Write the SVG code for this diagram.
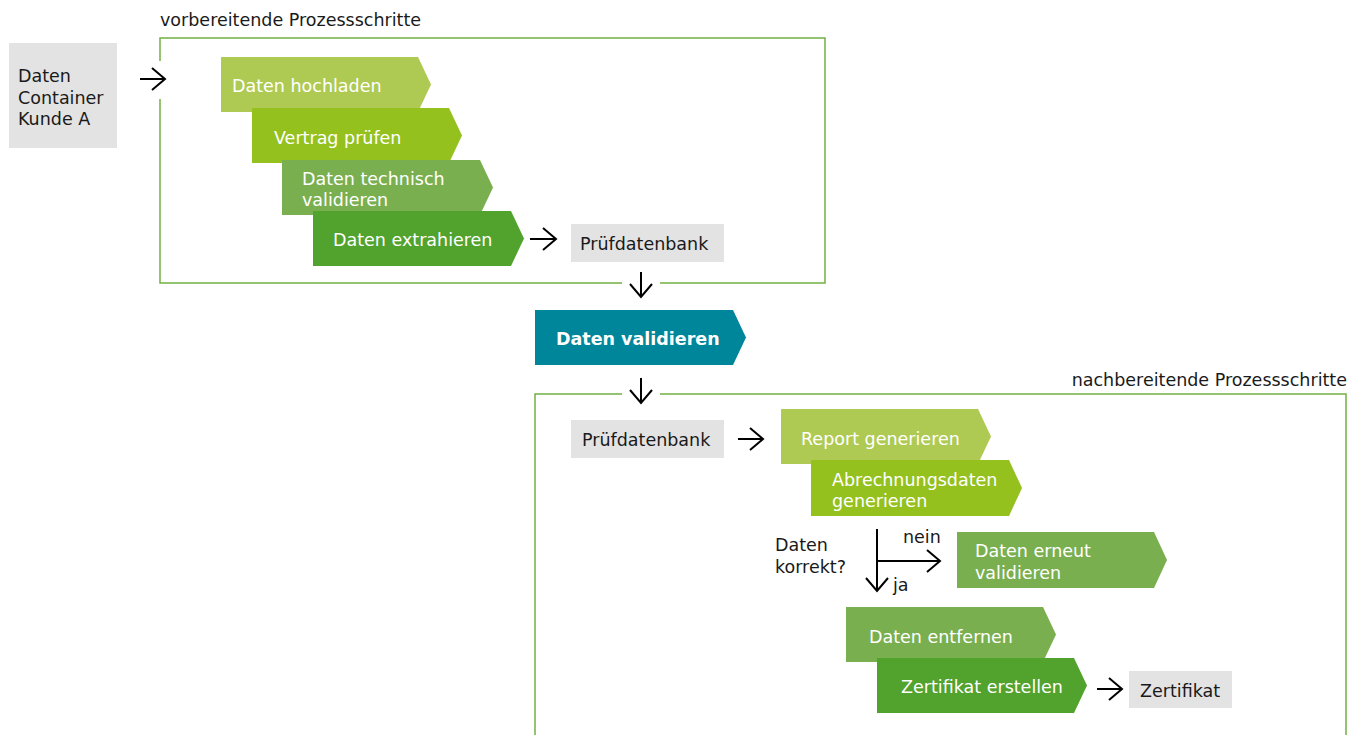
<svg xmlns="http://www.w3.org/2000/svg" width="1349" height="735" viewBox="0 0 1349 735">
<defs>
<style>
text{font-family:"DejaVu Sans","Open Sans",sans-serif;font-size:17.5px}
.w{fill:#fff}
.k{fill:#1a1a1a}
.lbl{fill:#1a1a1a}
.frame{fill:none;stroke:#72b043;stroke-width:1.5}
.gray{fill:#e3e3e3}
.c1{fill:#afca52}
.c2{fill:#95c11f}
.c3{fill:#7aaf50}
.c4{fill:#52a22e}
.teal{fill:#00869a}
.arr{fill:none;stroke:#000;stroke-width:2}
</style>
<marker id="ah" viewBox="0 0 16 26" refX="14" refY="13" markerWidth="16" markerHeight="26" orient="auto" markerUnits="userSpaceOnUse">
<path d="M1,2 L14,13 L1,24" fill="none" stroke="#000" stroke-width="2"/>
</marker>
</defs>
<g id="frames">
<path class="frame" d="M160,61 V38 H825 V283 H660 M622,283 H160 V99"/>
<path class="frame" d="M535,735 V394 H622 M660,394 H1346 V735"/>
<text class="lbl" x="160" y="26">vorbereitende Prozessschritte</text>
<text class="lbl" x="1347" y="386" text-anchor="end">nachbereitende Prozessschritte</text>
</g>
<g id="container">
<rect class="gray" x="9" y="43" width="108" height="105"/>
<text class="k" x="18" y="82">Daten</text>
<text class="k" x="18" y="103.5">Container</text>
<text class="k" x="18" y="125">Kunde A</text>
</g>
<g id="hochladen">
<path class="c1" d="M221,57 H418 L431,84.5 L418,112 H221 Z"/>
<text class="w" x="232" y="92">Daten hochladen</text>
</g>
<g id="vertrag">
<path class="c2" d="M252,108 H449 L462,135.5 L449,163 H252 Z"/>
<text class="w" x="274" y="144">Vertrag prüfen</text>
</g>
<g id="technisch">
<path class="c3" d="M282,160 H480 L493,187.5 L480,215 H282 Z"/>
<text class="w" x="302" y="185">Daten technisch</text>
<text class="w" x="302" y="206">validieren</text>
</g>
<g id="extrahieren">
<path class="c4" d="M313,211 H511 L524,238.5 L511,266 H313 Z"/>
<text class="w" x="333" y="246">Daten extrahieren</text>
</g>
<g id="pruefdb1">
<rect class="gray" x="571" y="224" width="153" height="38"/>
<text class="k" x="580" y="250">Prüfdatenbank</text>
</g>
<g id="validieren">
<path class="teal" d="M535,310 H733 L746,337.5 L733,365 H535 Z"/>
<text class="w" x="556" y="345" font-weight="bold" font-size="16.5">Daten validieren</text>
</g>
<g id="pruefdb2">
<rect class="gray" x="571" y="420" width="153" height="38"/>
<text class="k" x="582" y="446">Prüfdatenbank</text>
</g>
<g id="report">
<path class="c1" d="M781,409 H978 L991,436.5 L978,464 H781 Z"/>
<text class="w" x="801" y="445">Report generieren</text>
</g>
<g id="abrechnung">
<path class="c2" d="M811,460 H1009 L1022,488 L1009,516 H811 Z"/>
<text class="w" x="832" y="486">Abrechnungsdaten</text>
<text class="w" x="832" y="507">generieren</text>
</g>
<g id="decision">
<text class="k" x="775" y="551">Daten</text>
<text class="k" x="775" y="573">korrekt?</text>
<text class="k" x="903" y="543">nein</text>
<text class="k" x="893" y="591">ja</text>
</g>
<g id="erneut">
<path class="c3" d="M957,532 H1154 L1167,560 L1154,588 H957 Z"/>
<text class="w" x="975" y="557">Daten erneut</text>
<text class="w" x="975" y="579">validieren</text>
</g>
<g id="entfernen">
<path class="c3" d="M846,607 H1043 L1056,634.5 L1043,662 H846 Z"/>
<text class="w" x="869" y="643">Daten entfernen</text>
</g>
<g id="erstellen">
<path class="c4" d="M877,658 H1074 L1087,685.5 L1074,713 H877 Z"/>
<text class="w" x="901" y="693">Zertifikat erstellen</text>
</g>
<g id="zertifikat">
<rect class="gray" x="1129" y="671" width="103" height="37"/>
<text class="k" x="1140" y="697">Zertifikat</text>
</g>
<g id="connectors">
<line class="arr" x1="140" y1="79" x2="165" y2="79" marker-end="url(#ah)"/>
<line class="arr" x1="530" y1="239" x2="556" y2="239" marker-end="url(#ah)"/>
<line class="arr" x1="641" y1="272" x2="641" y2="297" marker-end="url(#ah)"/>
<line class="arr" x1="641" y1="378" x2="641" y2="403" marker-end="url(#ah)"/>
<line class="arr" x1="738" y1="439" x2="763" y2="439" marker-end="url(#ah)"/>
<line class="arr" x1="877" y1="529" x2="877" y2="591" marker-end="url(#ah)"/>
<line class="arr" x1="876" y1="561" x2="940" y2="561" marker-end="url(#ah)"/>
<line class="arr" x1="1097" y1="689" x2="1122" y2="689" marker-end="url(#ah)"/>
</g>
</svg>
